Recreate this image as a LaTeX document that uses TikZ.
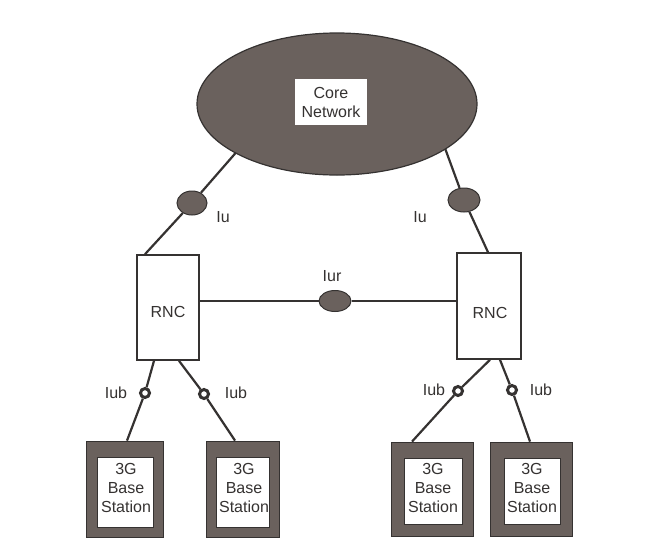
\documentclass[tikz,border=0pt]{standalone}
\usepackage{fontspec}
\setmainfont{Liberation Sans}
\usetikzlibrary{shapes.geometric,backgrounds}
\definecolor{ink}{HTML}{353231}
\definecolor{shade}{HTML}{6A615D}
\begin{document}
\begin{tikzpicture}[x=1pt,y=-1pt,
  font=\fontsize{16}{19}\selectfont,
  link/.style={draw=ink,line width=2.2pt},
  iface/.style={ellipse,fill=shade,draw=ink,line width=1pt,inner sep=0pt},
  ring/.style={circle,draw=ink,line width=3pt,fill=white,minimum size=9pt,inner sep=0pt},
  rncbox/.style={rectangle,draw=ink,line width=1.6pt,fill=white,inner sep=0pt},
  bsframe/.style={rectangle,fill=shade,draw=ink,line width=0.8pt,inner sep=0pt},
  bsinner/.style={rectangle,fill=white,draw=ink,line width=0.6pt,inner sep=0pt},
  lbl/.style={text=ink,inner sep=0pt,align=center},
]
\useasboundingbox (0,0) rectangle (654,547);

% core network cloud
\node[iface,line width=1.2pt,minimum width=280pt,minimum height=142pt] (core) at (337,104) {};
\node[fill=white,minimum width=72pt,minimum height=46pt,inner sep=0pt] (corebox) at (331,102) {};
\node[lbl] (coretext) at (331,102) {Core\\Network};
\coordinate (coreL) at (253,133);
\coordinate (coreR) at (442,140);

% radio network controllers
\node[rncbox,minimum width=62pt,minimum height=105pt] (rncL) at (168,307.5) {};
\node[lbl] (rncLt) at (168,312) {RNC};
\node[rncbox,minimum width=64pt,minimum height=106pt] (rncR) at (489,306) {};
\node[lbl] (rncRt) at (490,313) {RNC};

% Iu and Iur interface points
\node[iface,minimum width=30pt,minimum height=24pt] (iuL) at (192,203) {};
\node[iface,minimum width=32pt,minimum height=24pt] (iuR) at (464,200) {};
\node[iface,minimum width=32pt,minimum height=21pt] (iur) at (335,301) {};
\node[lbl] (iuLt) at (223,217) {Iu};
\node[lbl] (iuRt) at (420,217) {Iu};
\node[lbl] (iurt) at (332,276) {Iur};

% base stations
\node[bsframe,minimum width=77pt,minimum height=96pt] (bs1) at (124.5,489) {};
\node[bsinner,minimum width=56pt,minimum height=70pt] (bs1in) at (125,492) {};
\node[lbl,text width=56pt] (bs1t) at (126,488) {3G\\Base\\Station};

\node[bsframe,minimum width=73pt,minimum height=96pt] (bs2) at (243,489) {};
\node[bsinner,minimum width=53pt,minimum height=70pt] (bs2in) at (243,492) {};
\node[lbl,text width=53pt] (bs2t) at (244,488) {3G\\Base\\Station};

\node[bsframe,minimum width=82pt,minimum height=94pt] (bs3) at (432,489) {};
\node[bsinner,minimum width=58pt,minimum height=66pt] (bs3in) at (433,491) {};
\node[lbl,text width=58pt] (bs3t) at (433,488) {3G\\Base\\Station};

\node[bsframe,minimum width=82pt,minimum height=94pt] (bs4) at (531,489) {};
\node[bsinner,minimum width=56pt,minimum height=66pt] (bs4in) at (532,491) {};
\node[lbl,text width=56pt] (bs4t) at (532,488) {3G\\Base\\Station};

% Iub interface points
\node[ring] (iub1) at (145,393) {};
\node[ring] (iub2) at (204,394) {};
\node[ring] (iub3) at (458,391) {};
\node[ring] (iub4) at (512,390) {};
\node[lbl] (iub1t) at (116,393) {Iub};
\node[lbl] (iub2t) at (236,393) {Iub};
\node[lbl] (iub3t) at (434,390) {Iub};
\node[lbl] (iub4t) at (541,390) {Iub};

% links, kept under the nodes
\begin{scope}[on background layer]
  \fill[white] (0,0) rectangle (654,547);
  \draw[link] ([xshift=-23pt]rncL.north) -- (iuL) -- (coreL);
  \draw[link] ([xshift=-1pt]rncR.north) -- (iuR) -- (coreR);
  \draw[link,line width=1.6pt] (rncL.east |- iur) -- (iur) -- (rncR.west |- iur);
  \draw[link] ([xshift=-14pt]rncL.south) -- (iub1) -- ([xshift=2.5pt]bs1.north);
  \draw[link] ([xshift=11pt]rncL.south) -- (iub2) -- ([xshift=-8pt]bs2.north);
  \draw[link] ([xshift=1pt]rncR.south) -- (iub3) -- ([xshift=-20pt]bs3.north);
  \draw[link] ([xshift=11pt]rncR.south) -- (iub4) -- ([xshift=-1pt]bs4.north);
\end{scope}
\end{tikzpicture}
\end{document}
